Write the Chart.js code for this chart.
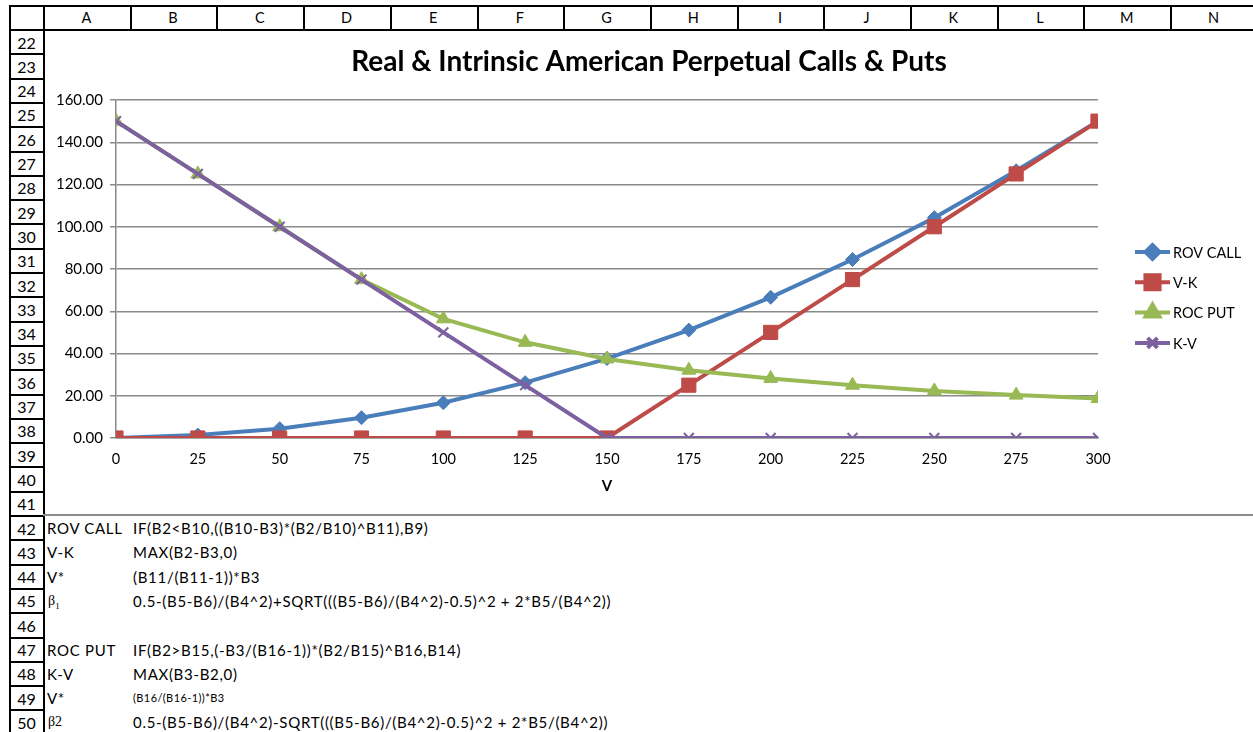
<!DOCTYPE html>
<html>
<head>
<meta charset="utf-8">
<title>Real & Intrinsic American Perpetual Calls & Puts</title>
<script src="https://cdn.jsdelivr.net/npm/chart.js@4.4.1/dist/chart.umd.min.js"></script>
<style>
    body { margin: 0; width: 1253px; height: 732px; overflow: hidden; background: #fff; position: relative; font-family: Lato, "Noto Sans", sans-serif; color: #000; }
    .ln { position: absolute; background: #000; }
    .cell { position: absolute; text-align: center; font-size: 14.5px; line-height: 24px; }
    .rown { font-size: 16px; }
    .txt { position: absolute; font-size: 15px; letter-spacing: 0.7px; white-space: nowrap; line-height: 24px; }
    .greek { font-family: "Liberation Serif", "DejaVu Serif", serif; font-size: 14px; letter-spacing: 0; }
    #chartBox { position: absolute; left: 43px; top: 31px; width: 1210px; height: 484px; }
    #chartBorder { position: absolute; left: 43px; top: 514px; width: 1210px; height: 2px; background: #8c8c8c; }
</style>
</head>
<body>
<div id="sheet"></div>
<div id="chartBox"><canvas id="optChart" width="1210" height="484"></canvas></div>
<div id="chartBorder"></div>

<script>
// spreadsheet frame
const colLetters = ['A', 'B', 'C', 'D', 'E', 'F', 'G', 'H', 'I', 'J', 'K', 'L', 'M', 'N'];
const rowNumbers = [22, 23, 24, 25, 26, 27, 28, 29, 30, 31, 32, 33, 34, 35, 36, 37, 38, 39, 40, 41, 42, 43, 44, 45, 46, 47, 48, 49, 50];

// formula notes under the chart (rows 42 - 50)
const noteLabels = ['ROV CALL', 'V-K', 'V*', 'β1', '', 'ROC PUT', 'K-V', 'V*', 'β2'];
const noteFormulas = [
    'IF(B2<B10,((B10-B3)*(B2/B10)^B11),B9)',
    'MAX(B2-B3,0)',
    '(B11/(B11-1))*B3',
    '0.5-(B5-B6)/(B4^2)+SQRT(((B5-B6)/(B4^2)-0.5)^2 + 2*B5/(B4^2))',
    '',
    'IF(B2>B15,(-B3/(B16-1))*(B2/B15)^B16,B14)',
    'MAX(B3-B2,0)',
    '(B16/(B16-1))*B3',
    '0.5-(B5-B6)/(B4^2)-SQRT(((B5-B6)/(B4^2)-0.5)^2 + 2*B5/(B4^2))'
];

// chart data
const vValues   = [0, 25, 50, 75, 100, 125, 150, 175, 200, 225, 250, 275, 300];
const rovCall   = [0, 1.4, 4.4, 9.6, 16.7, 26.2, 37.6, 51.1, 66.6, 84.5, 104.3, 126.5, 150];
const vMinusK   = [0, 0, 0, 0, 0, 0, 0, 25, 50, 75, 100, 125, 150];
const rocPut    = [150, 125, 100, 75, 56.4, 45.3, 37.4, 32.1, 28.2, 25.0, 22.3, 20.3, 18.7];
const kMinusV   = [150, 125, 100, 75, 50, 25, 0, 0, 0, 0, 0, 0, 0];
const yTickVals = [0, 20, 40, 60, 80, 100, 120, 140, 160];

const sheet = document.getElementById('sheet');
const COL0 = 43, COLW = 86.7, ROW0 = 30, ROWH = 24.3;

function addLine(x, y, w, h) {
    const d = document.createElement('div');
    d.className = 'ln';
    d.style.cssText = `left:${x}px;top:${y}px;width:${w}px;height:${h}px`;
    sheet.appendChild(d);
}
function addText(cls, x, y, w, text) {
    const d = document.createElement('div');
    d.className = cls;
    d.style.left = x + 'px';
    d.style.top = y + 'px';
    if (w) d.style.width = w + 'px';
    d.textContent = text;
    sheet.appendChild(d);
    return d;
}

// column header strip
addLine(9, 5, 1244, 2);
addLine(9, 29, 1244, 2);
addLine(9, 5, 2, 26);
addLine(COL0, 5, 2, 26);
colLetters.forEach((c, i) => {
    const x = COL0 + i * COLW;
    addText('cell', x, 6, COLW, c);
    addLine(x + COLW, 5, 2, 26);
});

// row header strip
addLine(9, 29, 2, 705);
addLine(COL0, 29, 2, 705);
rowNumbers.forEach((r, i) => {
    const y = ROW0 + i * ROWH;
    addText('cell rown', 10, y + 0.5, 33, r);
    addLine(9, y + ROWH - 1, 36, 2);
});

// notes
noteLabels.forEach((lab, i) => {
    const y = ROW0 + (20 + i) * ROWH;
    if (lab.startsWith('β')) {
        const d = addText('txt greek', 48, y, 0, '');
        if (lab === 'β1') d.innerHTML = 'β<sub style="font-size:9px">1</sub>';
        else d.textContent = lab;
    } else if (lab) {
        addText('txt', 47, y, 0, lab);
    }
    if (noteFormulas[i]) {
        const d = addText('txt', 133, y, 0, noteFormulas[i]);
        if (i === 7) { d.style.fontSize = '11px'; d.style.letterSpacing = '0.4px'; }
    }
});

// legend drawn as Excel does: line sample with the marker in the middle
const sideLegend = {
    id: 'sideLegend',
    afterDraw(chart) {
        const ctx = chart.ctx;
        const x0 = 1092, x1 = 1127, top = 221, step = 30.3;
        ctx.save();
        chart.data.datasets.forEach((ds, i) => {
            const y = top + i * step;
            ctx.strokeStyle = ds.borderColor;
            ctx.lineWidth = 4;
            ctx.beginPath();
            ctx.moveTo(x0, y);
            ctx.lineTo(x1, y);
            ctx.stroke();
            ctx.fillStyle = ds.pointBackgroundColor;
            ctx.strokeStyle = ds.pointBorderColor;
            Chart.helpers.drawPoint(ctx, {
                pointStyle: ds.pointStyle,
                radius: ds.pointRadius,
                borderWidth: ds.pointBorderWidth,
                rotation: 0
            }, (x0 + x1) / 2, y);
            ctx.fillStyle = '#000';
            ctx.font = '14.5px Lato, "Noto Sans", sans-serif';
            ctx.textBaseline = 'middle';
            ctx.textAlign = 'left';
            ctx.fillText(ds.label, x1 + 3, y + 1);
        });
        // chart title
        ctx.font = 'bold 28px Lato, "Noto Sans", sans-serif';
        ctx.textAlign = 'center';
        ctx.textBaseline = 'middle';
        ctx.fillText('Real & Intrinsic American Perpetual Calls & Puts', 606, 31);
        ctx.restore();
    }
};

function series(label, values, color, style, radius, bw, order) {
    return {
        label: label,
        data: vValues.map((v, i) => ({ x: v, y: values[i] })),
        borderColor: color,
        backgroundColor: color,
        borderWidth: 4,
        pointStyle: style,
        pointRadius: radius,
        pointHoverRadius: radius,
        pointBackgroundColor: color,
        pointBorderColor: color,
        pointBorderWidth: bw,
        tension: 0,
        order: order
    };
}

new Chart(document.getElementById('optChart').getContext('2d'), {
    type: 'line',
    data: {
        datasets: [
            series('ROV CALL', rovCall, '#4A7EBB', 'rectRot', 7, 1, 3),
            series('V-K', vMinusK, '#BE4B48', 'rect', 10, 1, 2),
            series('ROC PUT', rocPut, '#98B954', 'triangle', 8, 1, 1),
            series('K-V', kMinusV, '#7D60A0', 'crossRot', 7, 2, 0)
        ]
    },
    options: {
        responsive: false,
        animation: false,
        devicePixelRatio: 1,
        layout: { padding: { left: 0, top: 69, right: 155, bottom: 0 } },
        plugins: { legend: { display: false }, title: { display: false }, tooltip: { enabled: false } },
        scales: {
            x: {
                type: 'linear',
                min: 0,
                max: 300,
                afterFit: s => { s.height = 77; },
                afterBuildTicks: s => { s.ticks = vValues.map(v => ({ value: v })); },
                grid: { display: false },
                border: { display: true, color: '#8a8a8a', width: 1.5 },
                ticks: { color: '#000', padding: 5, maxRotation: 0, font: { family: 'Lato', size: 14.5 } },
                title: { display: true, text: 'V', color: '#000', padding: { top: 0, bottom: 20 }, font: { family: 'Lato', size: 15, weight: 'bold' } }
            },
            y: {
                min: 0,
                max: 160,
                afterFit: s => { s.width = 73; },
                afterBuildTicks: s => { s.ticks = yTickVals.map(v => ({ value: v })); },
                grid: { color: '#8a8a8a', lineWidth: 1.5, tickLength: 6, drawTicks: true },
                border: { display: true, color: '#8a8a8a', width: 1.5 },
                ticks: { color: '#000', padding: 7, callback: v => v.toFixed(2), font: { family: 'Lato', size: 15 } }
            }
        }
    },
    plugins: [sideLegend]
});
</script>
</body>
</html>
